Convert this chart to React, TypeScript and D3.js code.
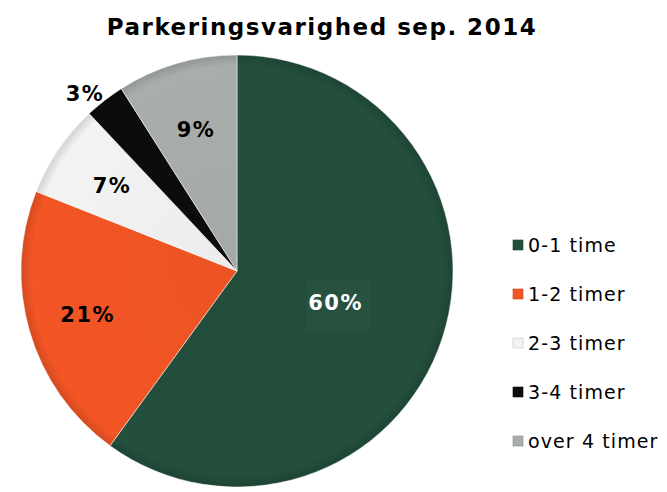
import { useRef, useEffect } from "react";
import * as d3 from "d3";

const categories = ["0-1 time", "1-2 timer", "2-3 timer", "3-4 timer", "over 4 timer"];
const values = [60, 21, 7, 3, 9];
const labels = ["60%", "21%", "7%", "3%", "9%"];
const colors = ["#234f3c", "#f35525", "#f3f3f3", "#0c0c0c", "#a9aeab"];
const labelColors = ["#ffffff", "#000000", "#000000", "#000000", "#000000"];

const width = 667;
const height = 492;
const cx = 237;
const cy = 271;
const radius = 216;
const font = "DejaVu Sans, Verdana, sans-serif";

const App = () => {
  const svgRef = useRef<SVGSVGElement>(null);

  useEffect(() => {
    const svg = d3.select(svgRef.current).attr("width", width).attr("height", height);
    svg.selectAll("*").remove();

    const defs = svg.append("defs");
    colors.forEach((c, i) => {
      const g = defs
        .append("radialGradient")
        .attr("id", `grad${i}`)
        .attr("gradientUnits", "userSpaceOnUse")
        .attr("cx", 0)
        .attr("cy", 0)
        .attr("r", radius);
      g.append("stop").attr("offset", "0%").attr("stop-color", d3.color(c)!.darker(0.08).toString());
      g.append("stop").attr("offset", "95%").attr("stop-color", c);
      g.append("stop").attr("offset", "100%").attr("stop-color", d3.color(c)!.darker(0.4).toString());
    });

    svg
      .append("text")
      .attr("x", 322)
      .attr("y", 35)
      .attr("text-anchor", "middle")
      .style("font-family", font)
      .style("font-weight", "bold")
      .style("font-size", "23px")
      .style("letter-spacing", "1.5px")
      .text("Parkeringsvarighed sep. 2014");

    const pie = d3.pie<number>().sort(null).value((d) => d);
    const arcs = pie(values);
    const arc = d3.arc<d3.PieArcDatum<number>>().innerRadius(0).outerRadius(radius);

    const g = svg.append("g").attr("transform", `translate(${cx},${cy})`);

    g.selectAll("path")
      .data(arcs)
      .enter()
      .append("path")
      .attr("d", arc)
      .attr("fill", (d, i) => `url(#grad${i})`)
      .attr("stroke", "#ffffff")
      .attr("stroke-width", 0.5);

    const labelRadius = [0.48, 0.72, 0.7, 1.08, 0.68];
    arcs.forEach((d, i) => {
      const a = (d.startAngle + d.endAngle) / 2 - (i === 3 ? 0.05 : 0);
      const r = radius * labelRadius[i];
      const x = Math.sin(a) * r;
      const y = -Math.cos(a) * r;
      if (i === 0) {
        g.append("rect")
          .attr("x", x - 30)
          .attr("y", y - 24)
          .attr("width", 64)
          .attr("height", 54)
          .attr("fill", "#ffffff")
          .attr("opacity", 0.025);
      }
      g.append("text")
        .attr("x", x)
        .attr("y", y)
        .attr("dy", "0.35em")
        .attr("text-anchor", "middle")
        .attr("fill", labelColors[i])
        .style("font-family", font)
        .style("font-weight", "bold")
        .style("font-size", "21px")
        .style("letter-spacing", "1.5px")
        .text(labels[i]);
    });

    const legend = svg.append("g");
    categories.forEach((c, i) => {
      const y = 245 + i * 49;
      legend
        .append("rect")
        .attr("x", 513)
        .attr("y", y - 5)
        .attr("width", 10)
        .attr("height", 10)
        .attr("fill", colors[i])
        .attr("stroke", d3.color(colors[i])!.darker(0.6).toString())
        .attr("stroke-width", 0.6);
      legend
        .append("text")
        .attr("x", 528)
        .attr("y", y)
        .attr("dy", "0.36em")
        .style("font-family", font)
        .style("font-size", "19px")
        .style("letter-spacing", "1.1px")
        .attr("fill", "#000")
        .text(c);
    });
  }, []);

  return (
    <div style={{ margin: -8 }}>
      <svg ref={svgRef}></svg>
    </div>
  );
};

export default App;
